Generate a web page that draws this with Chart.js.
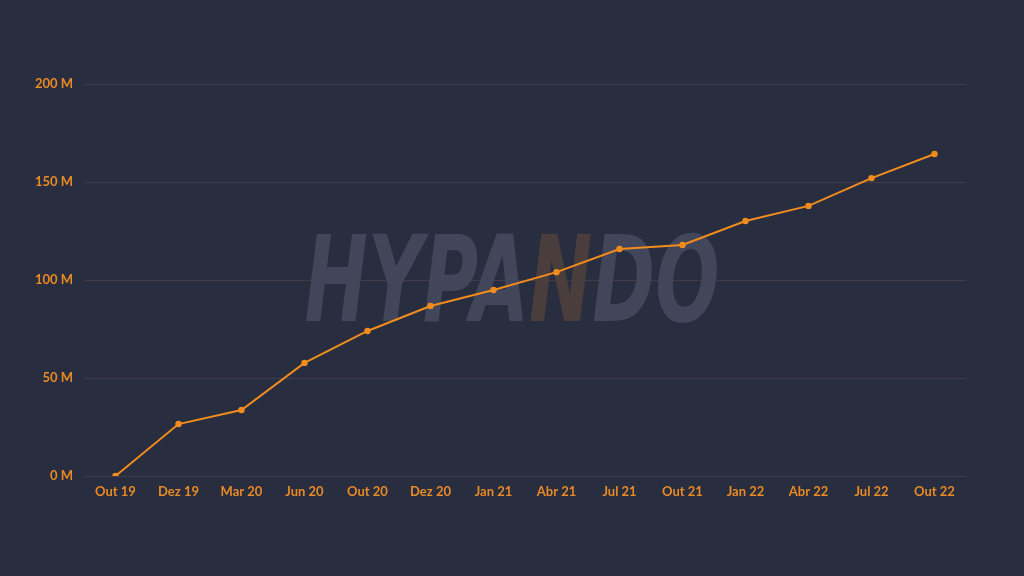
<!DOCTYPE html>
<html>
<head>
<meta charset="utf-8">
<script src="https://cdn.jsdelivr.net/npm/chart.js@4"></script>
<style>
  html, body { margin: 0; padding: 0; background: #282d40; }
  #wrap { width: 1024px; height: 576px; }
</style>
</head>
<body>
<div id="wrap"><canvas id="growthChart"></canvas></div>
<script>
// periods on the x axis
const labels = ['Out 19', 'Dez 19', 'Mar 20', 'Jun 20', 'Out 20', 'Dez 20', 'Jan 21',
                'Abr 21', 'Jul 21', 'Out 21', 'Jan 22', 'Abr 22', 'Jul 22', 'Out 22'];
// values in millions
const values = [0, 26.5, 33.7, 57.7, 74, 86.7, 94.9, 104, 115.8, 117.9, 130.1, 137.8, 152, 164.3];
const yTicks = [0, 50, 100, 150, 200];

const orange = '#f28c1c';
const tickColor = '#e98a24';

// watermark behind the line, squeezed to the logo's width
const watermark = {
    id: 'watermark',
    beforeDatasetsDraw(chart) {
        const ctx = chart.ctx;
        ctx.save();
        ctx.font = 'italic bold 120px "DejaVu Sans Condensed", sans-serif';
        ctx.textBaseline = 'middle';
        const parts = [['HYPA', '#41465b'], ['N', '#4a3e3c'], ['DO', '#41465b']];
        let total = 0;
        parts.forEach(p => total += ctx.measureText(p[0]).width);
        const targetW = 415;
        const sx = targetW / total;
        ctx.translate(512 - targetW / 2, 290);
        ctx.scale(sx, 1);
        let x = 0;
        parts.forEach(p => {
            ctx.fillStyle = p[1];
            ctx.fillText(p[0], x, 0);
            x += ctx.measureText(p[0]).width;
        });
        ctx.restore();
    }
};

const ctx = document.getElementById('growthChart');
new Chart(ctx, {
    type: 'line',
    data: {
        labels: labels,
        datasets: [{
            data: values,
            borderColor: orange,
            backgroundColor: orange,
            borderWidth: 2,
            pointRadius: 2.2,
            pointHoverRadius: 3,
            tension: 0
        }]
    },
    options: {
        responsive: true,
        maintainAspectRatio: false,
        animation: false,
        layout: { padding: { top: 84, right: 58, left: 0, bottom: 0 } },
        plugins: {
            legend: { display: false },
            tooltip: { enabled: false }
        },
        scales: {
            x: {
                offset: true,
                grid: { display: false, drawTicks: false },
                border: { display: false },
                ticks: {
                    color: tickColor,
                    padding: 8,
                    maxRotation: 0,
                    font: { family: 'Lato', size: 13, weight: 'bold' }
                },
                afterFit(scale) { scale.height = 100; }
            },
            y: {
                min: 0,
                max: 200,
                afterBuildTicks(scale) { scale.ticks = yTicks.map(v => ({ value: v })); },
                grid: { color: '#433b45', lineWidth: 1, drawTicks: false },
                border: { display: false },
                ticks: {
                    color: tickColor,
                    padding: 11,
                    font: { family: 'Lato', size: 13, weight: 'bold' },
                    callback: v => v + ' M'
                },
                afterFit(scale) { scale.width = 84; }
            }
        }
    },
    plugins: [watermark]
});
</script>
</body>
</html>
